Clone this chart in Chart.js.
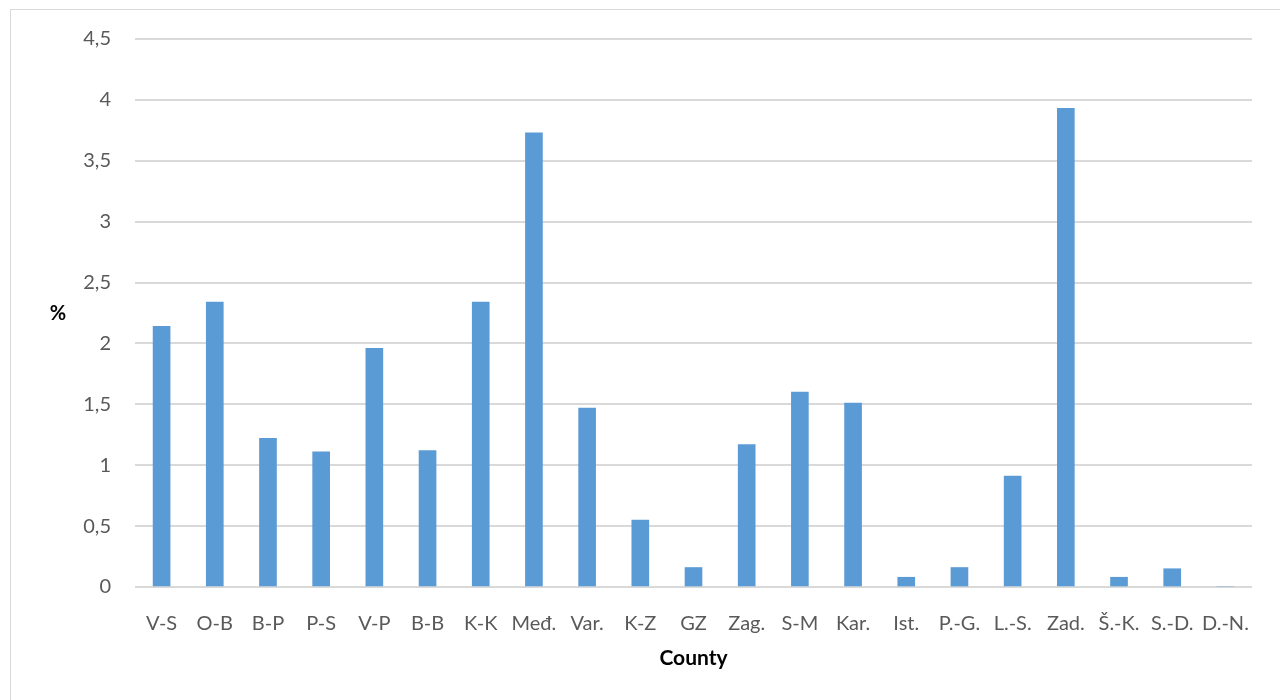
<!DOCTYPE html>
<html>
<head>
<meta charset="utf-8">
<script src="https://cdn.jsdelivr.net/npm/chart.js@4/dist/chart.umd.min.js"></script>
<style>
  html, body { margin: 0; padding: 0; background: #fff; }
  #wrap { width: 1280px; height: 700px; position: relative; }
</style>
</head>
<body>
<div id="wrap"><canvas id="chart"></canvas></div>
<script>
// county abbreviations along the x axis
const counties = ['V-S', 'O-B', 'B-P', 'P-S', 'V-P', 'B-B', 'K-K', 'Međ.', 'Var.', 'K-Z', 'GZ',
    'Zag.', 'S-M', 'Kar.', 'Ist.', 'P.-G.', 'L.-S.', 'Zad.', 'Š.-K.', 'S.-D.', 'D.-N.'];
// share in % per county
const percent = [2.14, 2.34, 1.22, 1.11, 1.96, 1.12, 2.34, 3.73, 1.47, 0.55, 0.16,
    1.17, 1.60, 1.51, 0.08, 0.16, 0.91, 3.93, 0.08, 0.15, 0];
const yMin = 0;
const yMax = 4.5;
const yStep = 0.5;

const FONT = 'Lato, "Open Sans", sans-serif';

// light frame around the chart and the unrotated "%" axis label
const framePlugin = {
    id: 'frame',
    beforeDraw(chart) {
        const ctx = chart.ctx;
        ctx.save();
        ctx.strokeStyle = '#d9d9d9';
        ctx.lineWidth = 1;
        ctx.strokeRect(10.5, 9.5, 1400, 800);
        ctx.restore();
    },
    afterDraw(chart) {
        const ctx = chart.ctx;
        ctx.save();
        ctx.font = 'bold 20px ' + FONT;
        ctx.fillStyle = '#000';
        ctx.textAlign = 'center';
        ctx.textBaseline = 'middle';
        ctx.fillText('%', 58, 314);
        ctx.restore();
    }
};

new Chart(document.getElementById('chart'), {
    type: 'bar',
    data: {
        labels: counties,
        datasets: [{
            data: percent,
            backgroundColor: '#5b9bd5',
            barThickness: 17
        }]
    },
    options: {
        responsive: true,
        maintainAspectRatio: false,
        animation: false,
        layout: { padding: { left: 10, right: 28, top: 39, bottom: 0 } },
        plugins: {
            legend: { display: false },
            tooltip: { enabled: false }
        },
        scales: {
            x: {
                grid: { display: false },
                border: { display: false },
                ticks: {
                    color: '#595959',
                    font: { family: FONT, size: 20 },
                    padding: 17,
                    maxRotation: 0,
                    autoSkip: false
                },
                title: {
                    display: true,
                    text: 'County',
                    color: '#000',
                    font: { family: FONT, size: 21, weight: 'bold' },
                    padding: { top: 10, bottom: 29 }
                },
                afterFit(scale) { scale.height = 113; }
            },
            y: {
                min: yMin,
                max: yMax,
                grid: { color: '#d9d9d9', lineWidth: 2, drawTicks: false },
                border: { display: false },
                ticks: {
                    stepSize: yStep,
                    color: '#595959',
                    font: { family: FONT, size: 20 },
                    padding: 24,
                    callback: v => String(v).replace('.', ',')
                },
                afterFit(scale) { scale.width = 125; }
            }
        }
    },
    plugins: [framePlugin]
});
</script>
</body>
</html>
